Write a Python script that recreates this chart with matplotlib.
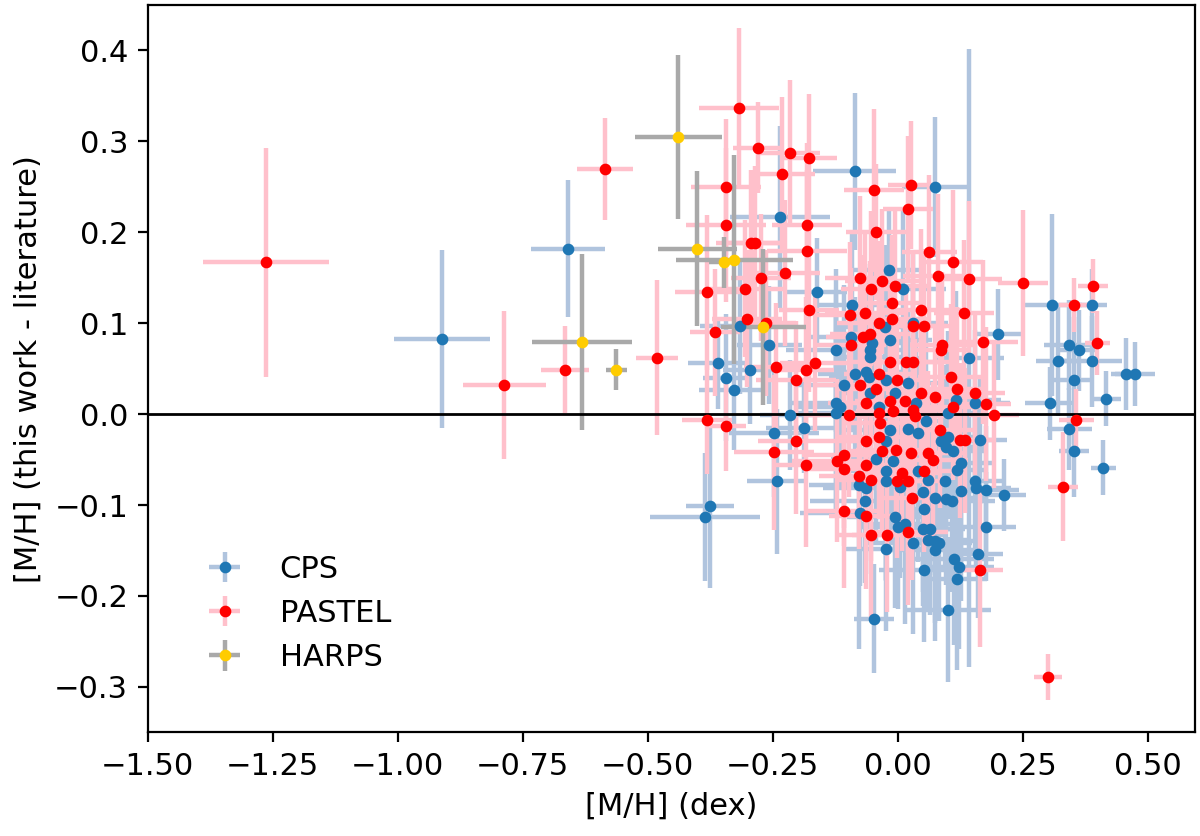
import numpy as np
import matplotlib
matplotlib.use("Agg")
import matplotlib.pyplot as plt

plt.rcParams['font.size'] = 11

# CPS comparison
cps_x = [
    -0.911, -0.659, -0.236, -0.086, -0.161, -0.091, -0.017, 0.011, -0.316, -0.257,
    -0.359, -0.295, -0.344, -0.327, -0.215, -0.188, -0.247, -0.241, -0.376, -0.386,
    0.074, -0.026, 0.031, 0.201, -0.093, -0.016, -0.051, -0.123, -0.055, -0.055,
    0.143, -0.063, -0.085, -0.057, -0.107, 0.021, -0.023, -0.055, -0.006, -0.123,
    -0.116, -0.037, 0.037, 0.116, 0.154, -0.124, 0.101, 0.021, 0.057, 0.041,
    -0.016, 0.164, 0.101, -0.023, 0.087, 0.096, 0.111, -0.044, -0.009, 0.127,
    0.119, 0.041, -0.023, 0.061, 0.094, -0.024, -0.077, -0.064, 0.004, 0.154,
    0.157, 0.177, 0.212, 0.051, 0.074, 0.097, 0.109, 0.127, -0.066, 0.053,
    -0.076, -0.006, 0.001, 0.014, 0.177, -0.023, 0.031, 0.051, 0.064, 0.061,
    0.074, 0.083, 0.074, 0.161, 0.113, 0.123, 0.053, 0.119, 0.101, -0.048,
    0.309, 0.389, 0.343, 0.363, 0.321, 0.389, 0.353, 0.457, 0.474, 0.416,
    0.304, 0.343, 0.353, 0.411,
]
cps_y = [
    0.083, 0.182, 0.217, 0.267, 0.134, 0.120, 0.158, 0.138, 0.097, 0.076,
    0.056, 0.049, 0.040, 0.026, -0.001, -0.015, -0.021, -0.074, -0.101, -0.113,
    0.250, 0.096, 0.100, 0.088, 0.085, 0.081, 0.078, 0.070, 0.070, 0.063,
    0.062, 0.046, 0.044, 0.041, 0.032, 0.034, 0.037, 0.023, 0.023, 0.012,
    0.008, 0.008, 0.012, 0.015, 0.012, 0.001, 0.001, -0.016, -0.008, -0.021,
    -0.018, -0.029, -0.025, -0.030, -0.030, -0.036, -0.041, -0.049, -0.052, -0.054,
    -0.061, -0.063, -0.062, -0.072, -0.073, -0.073, -0.078, -0.081, -0.080, -0.073,
    -0.081, -0.083, -0.089, -0.086, -0.092, -0.093, -0.096, -0.085, -0.096, -0.104,
    -0.109, -0.113, -0.124, -0.121, -0.124, -0.148, -0.142, -0.126, -0.126, -0.138,
    -0.140, -0.142, -0.149, -0.154, -0.159, -0.168, -0.171, -0.181, -0.215, -0.225,
    0.120, 0.120, 0.076, 0.070, 0.058, 0.058, 0.037, 0.044, 0.044, 0.017,
    0.012, -0.016, -0.041, -0.059,
]
cps_xerr = [
    0.096, 0.074, 0.100, 0.083, 0.060, 0.075, 0.070, 0.085, 0.080, 0.065,
    0.060, 0.055, 0.045, 0.070, 0.060, 0.075, 0.090, 0.060, 0.048, 0.110,
    0.066, 0.080, 0.070, 0.050, 0.090, 0.085, 0.070, 0.100, 0.080, 0.065,
    0.070, 0.090, 0.075, 0.080, 0.095, 0.070, 0.085, 0.065, 0.080, 0.090,
    0.085, 0.075, 0.060, 0.090, 0.070, 0.100, 0.080, 0.075, 0.085, 0.060,
    0.090, 0.055, 0.080, 0.070, 0.075, 0.085, 0.065, 0.090, 0.080, 0.070,
    0.060, 0.085, 0.075, 0.080, 0.070, 0.090, 0.100, 0.085, 0.075, 0.060,
    0.070, 0.065, 0.045, 0.090, 0.080, 0.075, 0.085, 0.060, 0.110, 0.080,
    0.120, 0.095, 0.080, 0.090, 0.060, 0.085, 0.100, 0.075, 0.070, 0.080,
    0.090, 0.065, 0.085, 0.050, 0.080, 0.070, 0.090, 0.060, 0.085, 0.040,
    0.060, 0.030, 0.050, 0.040, 0.045, 0.060, 0.040, 0.030, 0.040, 0.030,
    0.050, 0.045, 0.030, 0.025,
]
cps_yerr = [
    0.098, 0.075, 0.100, 0.086, 0.060, 0.080, 0.070, 0.090, 0.075, 0.065,
    0.050, 0.060, 0.070, 0.065, 0.060, 0.050, 0.070, 0.080, 0.090, 0.070,
    0.077, 0.090, 0.080, 0.050, 0.100, 0.085, 0.110, 0.090, 0.095, 0.080,
    0.340, 0.100, 0.085, 0.090, 0.110, 0.080, 0.095, 0.105, 0.085, 0.120,
    0.090, 0.100, 0.085, 0.120, 0.080, 0.110, 0.090, 0.095, 0.100, 0.085,
    0.110, 0.070, 0.090, 0.100, 0.105, 0.090, 0.120, 0.095, 0.085, 0.110,
    0.090, 0.100, 0.120, 0.085, 0.100, 0.110, 0.180, 0.095, 0.100, 0.080,
    0.090, 0.070, 0.040, 0.110, 0.085, 0.095, 0.100, 0.120, 0.090, 0.090,
    0.080, 0.100, 0.090, 0.110, 0.060, 0.090, 0.100, 0.085, 0.095, 0.080,
    0.090, 0.085, 0.100, 0.070, 0.095, 0.090, 0.080, 0.100, 0.080, 0.060,
    0.100, 0.040, 0.050, 0.045, 0.060, 0.050, 0.070, 0.040, 0.035, 0.030,
    0.040, 0.045, 0.050, 0.030,
]

# PASTEL comparison
pastel_x = [
    -1.264, -0.787, -0.665, -0.585, -0.481, -0.365, -0.301, -0.263, -0.243, -0.204,
    -0.183, -0.166, -0.177, -0.381, -0.344, -0.204, -0.247, -0.183, -0.317, -0.279,
    -0.215, -0.177, -0.231, -0.343, -0.048, 0.026, 0.021, -0.343, -0.181, -0.043,
    -0.294, -0.286, -0.181, -0.273, -0.225, -0.381, -0.306, -0.076, -0.053, -0.031,
    -0.006, -0.065, -0.096, -0.011, 0.063, 0.111, 0.081, 0.143, 0.251, 0.047,
    0.133, -0.011, -0.037, 0.031, 0.053, -0.069, -0.055, -0.093, 0.089, 0.086,
    0.171, -0.016, 0.016, 0.031, -0.037, -0.001, -0.076, -0.044, 0.106, 0.119,
    0.047, 0.074, 0.154, 0.176, -0.064, -0.016, 0.014, 0.111, -0.097, -0.037,
    -0.009, 0.031, 0.034, 0.193, -0.036, 0.084, -0.064, -0.037, 0.124, 0.134,
    -0.032, -0.004, 0.026, 0.061, 0.071, -0.107, -0.121, -0.107, -0.063, 0.053,
    0.009, -0.077, -0.053, -0.001, 0.021, 0.029, -0.107, -0.063, -0.053, -0.021,
    0.021, 0.165, 0.352, 0.391, 0.399, 0.357, 0.331, 0.300,
]
pastel_y = [
    0.167, 0.032, 0.049, 0.270, 0.062, 0.090, 0.105, 0.100, 0.052, 0.037,
    0.049, 0.056, 0.114, -0.006, -0.013, -0.030, -0.042, -0.056, 0.337, 0.293,
    0.287, 0.282, 0.264, 0.250, 0.246, 0.252, 0.226, 0.208, 0.208, 0.200,
    0.188, 0.188, 0.179, 0.150, 0.155, 0.134, 0.138, 0.150, 0.138, 0.146,
    0.141, 0.111, 0.109, 0.122, 0.178, 0.167, 0.152, 0.149, 0.144, 0.114,
    0.111, 0.105, 0.100, 0.097, 0.097, 0.085, 0.088, 0.076, 0.076, 0.070,
    0.079, 0.057, 0.057, 0.057, 0.044, 0.037, 0.032, 0.028, 0.041, 0.028,
    0.023, 0.019, 0.023, 0.011, 0.012, 0.014, 0.014, 0.008, -0.001, 0.001,
    0.003, 0.004, -0.002, -0.001, -0.010, -0.018, -0.030, -0.025, -0.029, -0.029,
    -0.041, -0.040, -0.043, -0.043, -0.050, -0.045, -0.051, -0.060, -0.056, -0.062,
    -0.065, -0.068, -0.072, -0.073, -0.073, -0.092, -0.106, -0.112, -0.133, -0.133,
    -0.130, -0.171, 0.120, 0.141, 0.078, -0.007, -0.080, -0.289,
]
pastel_xerr = [
    0.126, 0.083, 0.048, 0.056, 0.042, 0.050, 0.070, 0.060, 0.065, 0.080,
    0.055, 0.070, 0.060, 0.050, 0.040, 0.075, 0.080, 0.060, 0.080, 0.050,
    0.060, 0.055, 0.065, 0.070, 0.060, 0.045, 0.050, 0.080, 0.070, 0.060,
    0.070, 0.065, 0.080, 0.060, 0.070, 0.065, 0.080, 0.070, 0.060, 0.075,
    0.065, 0.080, 0.070, 0.060, 0.055, 0.060, 0.070, 0.065, 0.050, 0.080,
    0.060, 0.070, 0.085, 0.065, 0.060, 0.075, 0.080, 0.070, 0.065, 0.060,
    0.070, 0.075, 0.065, 0.080, 0.070, 0.060, 0.085, 0.075, 0.065, 0.060,
    0.070, 0.080, 0.060, 0.050, 0.075, 0.070, 0.065, 0.080, 0.085, 0.070,
    0.075, 0.065, 0.080, 0.050, 0.070, 0.075, 0.065, 0.080, 0.055, 0.060,
    0.070, 0.080, 0.065, 0.075, 0.070, 0.085, 0.090, 0.075, 0.070, 0.080,
    0.075, 0.080, 0.070, 0.065, 0.075, 0.070, 0.080, 0.075, 0.065, 0.070,
    0.080, 0.045, 0.030, 0.030, 0.025, 0.035, 0.030, 0.028,
]
pastel_yerr = [
    0.126, 0.081, 0.048, 0.056, 0.085, 0.070, 0.075, 0.080, 0.070, 0.065,
    0.080, 0.075, 0.090, 0.060, 0.050, 0.080, 0.085, 0.090, 0.088, 0.050,
    0.080, 0.070, 0.085, 0.075, 0.090, 0.070, 0.080, 0.085, 0.090, 0.075,
    0.080, 0.085, 0.090, 0.070, 0.080, 0.085, 0.075, 0.090, 0.085, 0.080,
    0.085, 0.090, 0.080, 0.075, 0.085, 0.080, 0.090, 0.085, 0.080, 0.090,
    0.080, 0.085, 0.090, 0.080, 0.085, 0.090, 0.080, 0.085, 0.080, 0.085,
    0.090, 0.085, 0.080, 0.090, 0.085, 0.080, 0.090, 0.085, 0.080, 0.090,
    0.085, 0.080, 0.090, 0.085, 0.080, 0.090, 0.085, 0.080, 0.090, 0.085,
    0.080, 0.090, 0.085, 0.080, 0.090, 0.085, 0.080, 0.090, 0.085, 0.080,
    0.090, 0.085, 0.080, 0.090, 0.085, 0.080, 0.090, 0.085, 0.080, 0.090,
    0.085, 0.080, 0.090, 0.085, 0.080, 0.090, 0.085, 0.080, 0.090, 0.085,
    0.080, 0.085, 0.030, 0.030, 0.035, 0.035, 0.060, 0.025,
]

# HARPS comparison
harps_x = [-0.439, -0.401, -0.348, -0.327, -0.269, -0.632, -0.563]
harps_y = [0.305, 0.182, 0.167, 0.170, 0.096, 0.079, 0.049]
harps_xerr = [0.087, 0.079, 0.030, 0.117, 0.085, 0.100, 0.021]
harps_yerr = [0.090, 0.085, 0.028, 0.115, 0.086, 0.097, 0.023]


fig, ax = plt.subplots(figsize=(6, 4.18), dpi=200)
fig.subplots_adjust(left=0.123, right=0.996, top=0.994, bottom=0.124)

ax.axhline(0, color='k', lw=1, zorder=2.5)

series = [
    (cps_x, cps_y, cps_xerr, cps_yerr, 'tab:blue', 'lightsteelblue', 'CPS'),
    (pastel_x, pastel_y, pastel_xerr, pastel_yerr, 'red', 'pink', 'PASTEL'),
    (harps_x, harps_y, harps_xerr, harps_yerr, '#ffcc00', 'darkgray', 'HARPS'),
]
for x, y, xe, ye, c, ec, lab in series:
    eb = ax.errorbar(x, y, xerr=xe, yerr=ye, fmt='o', color=c, ecolor=ec,
                     ms=3.2, elinewidth=1.6, label=lab)
    eb[0].set_zorder(3)

ax.set_xlim(-1.5, 0.595)
ax.set_ylim(-0.35, 0.45)
ax.set_xlabel('[M/H] (dex)')
ax.set_ylabel('[M/H] (this work - literature)')
ax.legend(loc='lower left', frameon=False, bbox_to_anchor=(0.018, 0.045))

fig.savefig('out.png', dpi=200)
